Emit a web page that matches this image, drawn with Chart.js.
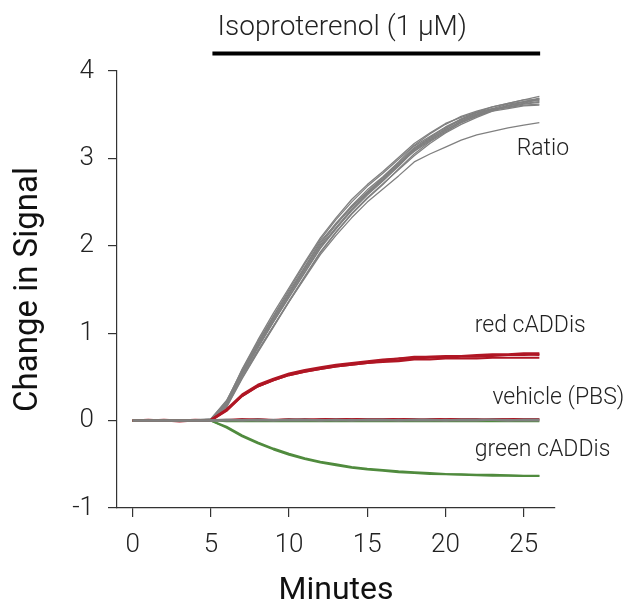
<!DOCTYPE html>
<html>
<head>
<meta charset="utf-8">
<script src="https://cdn.jsdelivr.net/npm/chart.js@4.4.1/dist/chart.umd.min.js"></script>
<style>
  html, body { margin: 0; padding: 0; background: #fff; }
  #wrap { width: 628px; height: 601px; }
</style>
</head>
<body>
<div id="wrap"><canvas id="c" width="628" height="601"></canvas></div>
<script>
// ---- data ----
const minutes = [0,1,2,3,4,5,6,7,8,9,10,11,12,13,14,15,16,17,18,19,20,21,22,23,24,25,26];
const xTicks = [0,5,10,15,20,25];
const yTicks = [-1,0,1,2,3,4];

const ratio1  = [0,0.01,-0.01,0,0.01,0.01,0.18,0.52,0.83,1.13,1.42,1.70,1.98,2.21,2.42,2.60,2.76,2.93,3.10,3.22,3.34,3.45,3.52,3.56,3.60,3.63,3.68];
const ratio2  = [0,-0.01,0,0.01,0,0.02,0.22,0.58,0.90,1.20,1.50,1.79,2.07,2.30,2.50,2.68,2.83,2.99,3.15,3.28,3.39,3.48,3.54,3.59,3.63,3.67,3.71];
const ratio3  = [0,0,0.01,-0.01,0,0,0.15,0.48,0.78,1.07,1.36,1.64,1.92,2.15,2.36,2.54,2.70,2.88,3.05,3.19,3.30,3.41,3.48,3.55,3.59,3.62,3.64];
const ratio4  = [0,0.01,0,0,-0.01,0.01,0.20,0.54,0.86,1.16,1.45,1.73,2.01,2.24,2.45,2.62,2.78,2.95,3.12,3.24,3.35,3.44,3.51,3.57,3.58,3.61,3.62];
const ratio5  = [0,0,-0.01,0,0.01,0,0.19,0.55,0.84,1.14,1.44,1.72,2.00,2.20,2.40,2.58,2.74,2.91,3.09,3.21,3.32,3.43,3.50,3.54,3.60,3.65,3.66];
const ratio6  = [0,0,0,0.01,0,0.01,0.21,0.59,0.92,1.23,1.52,1.81,2.09,2.32,2.53,2.70,2.85,3.01,3.17,3.29,3.40,3.47,3.53,3.57,3.62,3.65,3.69];
const ratio7  = [0,-0.01,0,0,0,0,0.16,0.49,0.79,1.08,1.37,1.65,1.93,2.16,2.37,2.55,2.71,2.87,3.03,3.17,3.29,3.39,3.47,3.54,3.57,3.60,3.61];
const ratio8  = [0,0,0,0,0.01,0.02,0.23,0.56,0.87,1.17,1.46,1.75,2.03,2.26,2.46,2.64,2.79,2.96,3.14,3.25,3.36,3.45,3.53,3.59,3.63,3.67,3.67];
const ratio9  = [0,0.01,-0.01,0,0,0.01,0.19,0.53,0.84,1.13,1.41,1.69,1.97,2.19,2.41,2.59,2.75,2.92,3.11,3.23,3.33,3.42,3.50,3.56,3.58,3.63,3.65];
const ratio10 = [0,0,0,0.01,0,0.01,0.17,0.51,0.80,1.08,1.36,1.63,1.90,2.12,2.32,2.50,2.65,2.80,2.96,3.05,3.13,3.21,3.27,3.31,3.35,3.38,3.41];
const ratio11 = [0,0,0.01,0,0,0.01,0.20,0.56,0.88,1.19,1.48,1.76,2.05,2.25,2.44,2.61,2.77,2.94,3.08,3.20,3.31,3.41,3.49,3.55,3.61,3.64,3.68];

const red1 = [0,0,0.01,0,0,0.01,0.13,0.30,0.41,0.48,0.54,0.58,0.61,0.64,0.66,0.68,0.70,0.71,0.73,0.73,0.74,0.74,0.75,0.76,0.76,0.77,0.77];
const red2 = [0,0.01,0,0,0.01,0,0.11,0.28,0.39,0.46,0.52,0.56,0.59,0.62,0.64,0.66,0.68,0.69,0.71,0.72,0.72,0.73,0.73,0.74,0.75,0.75,0.76];
const red3 = [0,0,0,-0.01,0,0.01,0.12,0.29,0.40,0.47,0.53,0.57,0.60,0.63,0.65,0.67,0.69,0.71,0.72,0.73,0.73,0.74,0.74,0.75,0.75,0.76,0.75];
const red4 = [0,0,0,0,0,0,0.12,0.28,0.39,0.46,0.52,0.56,0.59,0.62,0.64,0.66,0.67,0.68,0.70,0.70,0.71,0.71,0.71,0.72,0.72,0.72,0.72];

const green1 = [0,0,0,0,0,0,-0.08,-0.18,-0.26,-0.33,-0.39,-0.44,-0.48,-0.51,-0.54,-0.56,-0.575,-0.59,-0.60,-0.61,-0.615,-0.62,-0.625,-0.63,-0.63,-0.635,-0.635];
const green2 = [0,0,0,0,0,0,-0.07,-0.17,-0.25,-0.32,-0.38,-0.43,-0.47,-0.50,-0.53,-0.55,-0.565,-0.58,-0.59,-0.60,-0.61,-0.615,-0.62,-0.62,-0.625,-0.63,-0.63];

const vehGray1  = [0,0,0,0,0,0,0.01,0,0.01,0,0.01,0.01,0,0.01,0,0.01,0.01,0,0.01,0.01,0,0.01,0.01,0.01,0,0.01,0.01];
const vehGray2  = [0,0,0,0,0,0,0,0.01,0,0.01,0,0,0.01,0,0.01,0,0,0.01,0,0,0.01,0,0,0.01,0.01,0,0];
const vehRed1   = [0,0,0,0,0,0,0.01,0.02,0.01,0.01,0.02,0.01,0.02,0.02,0.01,0.02,0.02,0.02,0.01,0.02,0.02,0.02,0.01,0.02,0.02,0.02,0.02];
const vehRed2   = [0,0,0,0,0,0,0.01,0.01,0.02,0.01,0.01,0.02,0.01,0.02,0.02,0.02,0.01,0.02,0.02,0.01,0.02,0.02,0.02,0.01,0.02,0.02,0.01];
const vehGreen1 = [0,0,0,0,0,0,-0.01,-0.01,-0.01,-0.01,-0.01,-0.01,-0.01,-0.01,-0.01,-0.01,-0.01,-0.01,-0.01,-0.01,-0.01,-0.01,-0.01,-0.01,-0.01,-0.01,-0.01];

const treatStart = 5.1, treatEnd = 26.05, treatLabelX = 13.4;
const treatLabel = 'Isoproterenol (1 \u03bcM)';
const seriesLabels = [
  { text: 'Ratio',          x: 24.55, y: 3.11 },
  { text: 'red cADDis',     x: 21.87, y: 1.075 },
  { text: 'vehicle (PBS)',  x: 23.0,  y: 0.255 },
  { text: 'green cADDis',   x: 21.87, y: -0.34 }
];

// ---- styles ----
const GRAY = 'rgb(128,128,128)';
const RED = 'rgb(176,22,36)';
const GREEN = 'rgb(80,139,62)';
const INK = '#222';

function mk(data, color, width) {
  return {
    data: minutes.map((m, i) => ({ x: m, y: data[i] })),
    borderColor: color, borderWidth: width, pointRadius: 0,
    tension: 0, fill: false, borderJoinStyle: 'round', borderCapStyle: 'butt'
  };
}

// first dataset drawn on top
const datasets = [
  mk(vehGray1, GRAY, 2.5),
  mk(vehGray2, GRAY, 2),
  mk(vehRed1, RED, 1.5),
  mk(vehRed2, RED, 1.5),
  mk(vehGreen1, GREEN, 1.5),
  mk(green1, GREEN, 2),
  mk(green2, GREEN, 2),
  mk(red1, RED, 2),
  mk(red2, RED, 2),
  mk(red3, RED, 2),
  mk(red4, RED, 2),
  mk(ratio1, GRAY, 1.3),
  mk(ratio2, GRAY, 1.3),
  mk(ratio3, GRAY, 1.3),
  mk(ratio4, GRAY, 1.3),
  mk(ratio5, GRAY, 1.3),
  mk(ratio6, GRAY, 1.3),
  mk(ratio7, GRAY, 1.3),
  mk(ratio8, GRAY, 1.3),
  mk(ratio9, GRAY, 1.3),
  mk(ratio10, GRAY, 1.3),
  mk(ratio11, GRAY, 1.3)
];

const annot = {
  id: 'annot',
  afterDraw(chart) {
    const ctx = chart.ctx;
    const xs = chart.scales.x, ys = chart.scales.y;
    ctx.save();
    const x0 = xs.getPixelForValue(treatStart), x1 = xs.getPixelForValue(treatEnd);
    ctx.strokeStyle = '#000';
    ctx.lineWidth = 4;
    ctx.beginPath();
    ctx.moveTo(x0, 53.5);
    ctx.lineTo(x1, 53.5);
    ctx.stroke();
    ctx.fillStyle = INK;
    ctx.font = '300 28px Roboto';
    ctx.textAlign = 'center';
    ctx.textBaseline = 'middle';
    ctx.fillText(treatLabel, xs.getPixelForValue(treatLabelX), 28);
    ctx.font = '300 23px Roboto';
    ctx.textAlign = 'left';
    seriesLabels.forEach(l => {
      ctx.fillText(l.text, xs.getPixelForValue(l.x), ys.getPixelForValue(l.y));
    });
    ctx.restore();
  }
};

const tickFont = { family: 'Roboto', size: 26, weight: '300' };

new Chart(document.getElementById('c'), {
  type: 'line',
  data: { datasets },
  options: {
    responsive: false,
    animation: false,
    devicePixelRatio: 1,
    layout: { padding: { left: 0, top: 71, right: 73, bottom: 0 } },
    plugins: { legend: { display: false }, tooltip: { enabled: false } },
    scales: {
      x: {
        type: 'linear', min: -1, max: 27,
        afterBuildTicks: s => { s.ticks = xTicks.map(v => ({ value: v })); },
        afterFit: s => { s.height = 93; },
        ticks: { font: tickFont, color: INK, padding: 13, maxRotation: 0, callback: v => String(v) },
        grid: { drawOnChartArea: false, drawTicks: true, tickLength: 9, color: '#333', lineWidth: 1.2 },
        border: { display: true, color: '#333', width: 1.2 },
        title: { display: true, text: 'Minutes', color: '#111',
                 font: { family: 'Roboto', size: 32, weight: '400', lineHeight: 0.6 },
                 padding: { top: 0, bottom: 0 } }
      },
      y: {
        type: 'linear', min: -1, max: 4,
        afterBuildTicks: s => { s.ticks = yTicks.map(v => ({ value: v })); },
        afterFit: s => { s.width = 117; },
        ticks: { font: tickFont, color: INK, padding: 14, callback: v => String(v) },
        grid: { drawOnChartArea: false, drawTicks: true, tickLength: 9, color: '#333', lineWidth: 1.2 },
        border: { display: true, color: '#333', width: 1.2 },
        title: { display: true, text: 'Change in Signal', color: '#111',
                 font: { family: 'Roboto', size: 33, weight: '400', lineHeight: 1.0 },
                 padding: { top: 12, bottom: 0 } }
      }
    }
  },
  plugins: [annot]
});
</script>
</body>
</html>
